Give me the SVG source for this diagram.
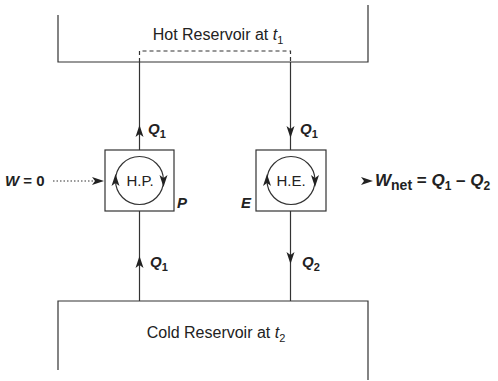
<svg xmlns="http://www.w3.org/2000/svg" width="498" height="381" viewBox="0 0 498 381">
<style>
.ln{stroke:#333;stroke-width:1.2;fill:none}
.dash{stroke:#333;stroke-width:1.2;fill:none;stroke-dasharray:4,3}
.dot{stroke:#333;stroke-width:1.2;fill:none;stroke-dasharray:1.5,2}
.ah{fill:#222;stroke:none}
text{font-family:"Liberation Sans",Arial,sans-serif;fill:#222;font-size:15px}
.r{font-size:16px}
.w{font-size:17px}
.v{font-style:italic;font-weight:bold}
.s{font-size:11px}
</style>
<defs>
<path id="up" d="M0,0 L4,12 L0,9 L-4,12 Z"/>
<path id="down" d="M0,0 L4,-12 L0,-9 L-4,-12 Z"/>
<path id="right" d="M0,0 L-12,-4 L-9,0 L-12,4 Z"/>
</defs>
<rect width="498" height="381" fill="#fff"/>
<g id="hot">
<path class="ln" d="M58,15 V62 H368 V5"/>
<text x="218" y="40" text-anchor="middle" class="r">Hot Reservoir at <tspan font-style="italic">t</tspan><tspan class="s" dy="4">1</tspan></text>
</g>
<g id="cold">
<path class="ln" d="M58,370 V301 H368 V380"/>
<text x="216" y="338" text-anchor="middle" class="r">Cold Reservoir at <tspan font-style="italic">t</tspan><tspan class="s" dy="4">2</tspan></text>
</g>
<g id="hp">
<rect class="ln" x="105" y="150" width="69" height="61"/>
<circle class="ln" cx="139.5" cy="180.5" r="24"/>
<use href="#up" class="ah" x="115.5" y="174"/>
<use href="#down" class="ah" x="163.5" y="187"/>
<text x="140" y="186" text-anchor="middle">H.P.</text>
<text x="177" y="208" class="v">P</text>
</g>
<g id="he">
<rect class="ln" x="256" y="150" width="70" height="61"/>
<circle class="ln" cx="291" cy="180.5" r="24"/>
<use href="#up" class="ah" x="267" y="174"/>
<use href="#down" class="ah" x="315" y="187"/>
<text x="291" y="186" text-anchor="middle">H.E.</text>
<text x="241" y="208" class="v">E</text>
</g>
<g id="connectors">
<path class="dash" d="M139.5,62 V51 H290.5 V62"/>
<path class="ln" d="M139.5,62 V150"/>
<use href="#up" class="ah" x="139.5" y="125"/>
<path class="ln" d="M290.5,62 V150"/>
<use href="#down" class="ah" x="290.5" y="138"/>
<path class="ln" d="M139.5,211 V301"/>
<use href="#up" class="ah" x="139.5" y="256"/>
<path class="ln" d="M290.5,211 V301"/>
<use href="#down" class="ah" x="290.5" y="264"/>
<path class="dot" d="M53,181 H95"/>
<use href="#right" class="ah" x="104" y="181"/>
<use href="#right" class="ah" x="373" y="181"/>
</g>
<g id="labels">
<text x="148" y="134" class="v">Q<tspan class="s" dy="4" font-style="normal">1</tspan></text>
<text x="300" y="134" class="v">Q<tspan class="s" dy="4" font-style="normal">1</tspan></text>
<text x="150" y="267" class="v">Q<tspan class="s" dy="4" font-style="normal">1</tspan></text>
<text x="302" y="267" class="v">Q<tspan class="s" dy="4" font-style="normal">2</tspan></text>
<text x="5" y="186" class="v">W<tspan font-style="normal"> = 0</tspan></text>
<text x="375" y="186" class="v w">W<tspan dy="4" font-style="normal" font-size="14">net</tspan><tspan dy="-4" font-style="normal"> = </tspan>Q<tspan dy="4" font-style="normal" font-size="12">1</tspan><tspan dy="-4" font-style="normal"> – </tspan>Q<tspan dy="4" font-style="normal" font-size="12">2</tspan></text>
</g>
</svg>
